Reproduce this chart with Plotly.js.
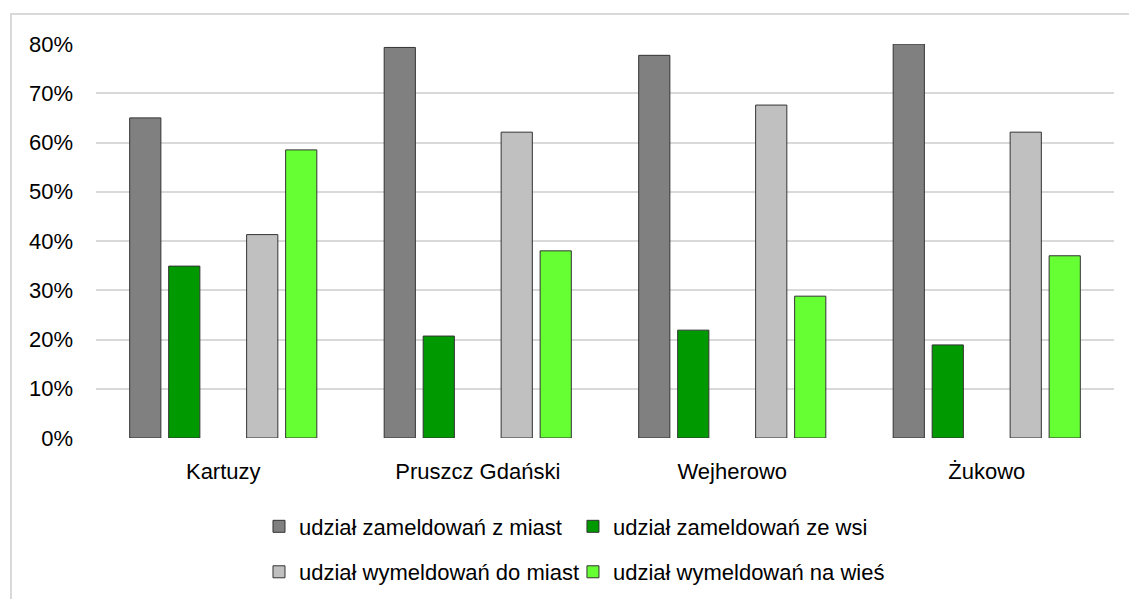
<!DOCTYPE html>
<html>
<head>
<meta charset="utf-8">
<script src="https://cdn.plot.ly/plotly-3.0.1.min.js"></script>
<style>
  html, body { margin: 0; padding: 0; background: #ffffff; }
  #frame { position: absolute; left: 10px; top: 13px; width: 1140px; height: 620px;
           border-top: 2px solid #d9d9d9; border-left: 2px solid #d9d9d9; box-sizing: border-box; }
  #chart { position: absolute; left: 0; top: 0; width: 1129px; height: 599px; }
</style>
</head>
<body>
<div id="frame"></div>
<div id="chart"></div>
<script>
const categories = ['Kartuzy', 'Pruszcz Gdański', 'Wejherowo', 'Żukowo'];
const zameldowaniaZMiast = [65.0, 79.3, 77.7, 80.0];
const zameldowaniaZeWsi = [34.9, 20.7, 21.9, 18.9];
const wymeldowaniaDoMiast = [41.3, 62.1, 67.6, 62.1];
const wymeldowaniaNaWies = [58.5, 38.0, 28.8, 37.0];
const emptySlot = [null, null, null, null];
const yTicks = [0, 10, 20, 30, 40, 50, 60, 70, 80];

const FONT = '"Liberation Sans", Arial, sans-serif';
const FS = 22;
const outline = { color: '#333333', width: 1 };

const traces = [
  { type: 'bar', name: 'udział zameldowań z miast', x: categories, y: zameldowaniaZMiast,
    marker: { color: '#808080', line: outline }, legend: 'legend' },
  { type: 'bar', name: 'udział zameldowań ze wsi', x: categories, y: zameldowaniaZeWsi,
    marker: { color: '#009900', line: outline }, legend: 'legend2' },
  { type: 'bar', name: '', x: categories, y: emptySlot, showlegend: false,
    marker: { color: 'rgba(0,0,0,0)' }, hoverinfo: 'skip' },
  { type: 'bar', name: 'udział wymeldowań do miast', x: categories, y: wymeldowaniaDoMiast,
    marker: { color: '#c0c0c0', line: outline }, legend: 'legend3' },
  { type: 'bar', name: 'udział wymeldowań na wieś', x: categories, y: wymeldowaniaNaWies,
    marker: { color: '#66ff33', line: outline }, legend: 'legend4' }
];

const legendCommon = {
  orientation: 'h', xanchor: 'left', yanchor: 'middle', xref: 'container', yref: 'container',
  bgcolor: 'rgba(0,0,0,0)', font: { family: FONT, size: FS, color: '#000' },
  itemwidth: 30, traceorder: 'normal'
};

const layout = {
  width: 1129, height: 599,
  margin: { l: 96, r: 15, t: 44, b: 161 },
  paper_bgcolor: 'rgba(0,0,0,0)', plot_bgcolor: 'rgba(0,0,0,0)',
  font: { family: FONT, size: FS, color: '#000' },
  barmode: 'group', bargap: 0.234, bargroupgap: 0.2,
  showlegend: true,
  xaxis: { type: 'category', showgrid: false, showline: false, zeroline: false, automargin: false,
           ticks: '', ticklabelstandoff: 18, tickfont: { family: FONT, size: FS, color: '#000' } },
  yaxis: { range: [0, 80], tickvals: yTicks, ticktext: yTicks.map(v => v + '%'), automargin: false,
           showgrid: true, gridcolor: '#d9d9d9', gridwidth: 2, zeroline: false, showline: false,
           ticks: '', ticklabelstandoff: 22, tickfont: { family: FONT, size: FS, color: '#000' } },
  legend: Object.assign({}, legendCommon, { x: 0.2294, y: 0.121 }),
  legend2: Object.assign({}, legendCommon, { x: 0.5075, y: 0.121 }),
  legend3: Object.assign({}, legendCommon, { x: 0.2294, y: 0.0451 }),
  legend4: Object.assign({}, legendCommon, { x: 0.5075, y: 0.0451 })
};

Plotly.newPlot('chart', traces, layout, { displayModeBar: false, staticPlot: true });
</script>
</body>
</html>
